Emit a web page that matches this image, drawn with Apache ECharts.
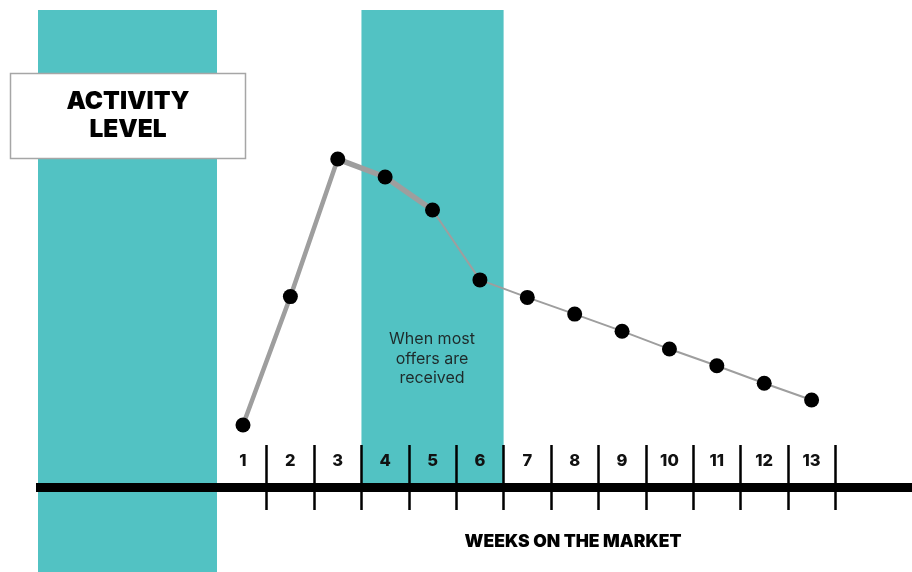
<!DOCTYPE html>
<html>
<head>
<meta charset="utf-8">
<title>Activity level by weeks on the market</title>
<script src="https://cdn.jsdelivr.net/npm/echarts@6/dist/echarts.min.js"></script>
<style>
  html, body { margin: 0; padding: 0; background: #ffffff; }
  #chart { width: 912px; height: 572px; }
</style>
</head>
<body>
<div id="chart"></div>
<script>
// Weeks on the market and the relative activity level for each week
const weeks = [1, 2, 3, 4, 5, 6, 7, 8, 9, 10, 11, 12, 13];
const activity = [15.6, 47.9, 82.5, 78.0, 69.7, 52.1, 47.7, 43.5, 39.2, 34.7, 30.5, 26.1, 21.9];
const weekLabels = ['1', '2', '3', '4', '5', '6', '7', '8', '9', '10', '11', '12', '13'];
// Weeks in which most offers come in (shaded band)
const offerWeeks = [4, 6];

const TEAL = '#52c2c3';
const LINE_GREY = '#9e9e9e';
const FONT = 'Inter, Lato, "DejaVu Sans", sans-serif';

// Week boundaries, where the divider ticks sit
const boundaries = weeks.map(w => w + 0.5);

// Line segments with their stroke widths: [first index, last index, width]
const segments = [[0, 2, 4.5], [2, 4, 5.5], [4, 12, 2]];

function segmentData(from, to) {
  return weeks.map((w, i) => (i >= from && i <= to) ? [w, activity[i]] : [w, null]);
}

const chart = echarts.init(document.getElementById('chart'), null, { renderer: 'canvas' });

const series = segments.map(([from, to, width], k) => ({
  type: 'line',
  data: segmentData(from, to),
  symbol: 'none',
  connectNulls: false,
  z: 3,
  silent: true,
  lineStyle: { color: LINE_GREY, width: width, cap: 'round', join: 'round' },
  markArea: k === 0 ? {
    silent: true,
    itemStyle: { color: TEAL, opacity: 1 },
    data: [[{ xAxis: offerWeeks[0] - 0.5, yAxis: 0 }, { xAxis: offerWeeks[1] + 0.5, yAxis: 120 }]]
  } : undefined
}));

series.push({
  type: 'scatter',
  data: weeks.map((w, i) => [w, activity[i]]),
  symbol: 'circle',
  symbolSize: 15,
  itemStyle: { color: '#000000', opacity: 1 },
  z: 6,
  silent: true
});

chart.setOption({
  animation: false,
  backgroundColor: '#ffffff',
  grid: { left: 36, right: 0, top: 10, bottom: 85, outerBoundsMode: 'none', containLabel: false },
  xAxis: [
    {
      type: 'value',
      position: 'bottom',
      min: -3.3686,
      max: 15.119,
      z: 5,
      axisLine: { show: true, lineStyle: { color: '#000000', width: 9, cap: 'butt' } },
      axisTick: { show: true, customValues: boundaries, length: 23, lineStyle: { color: '#000000', width: 2.5 } },
      axisLabel: { show: false },
      splitLine: { show: false }
    },
    {
      type: 'value',
      position: 'top',
      offset: -477,
      min: -3.3686,
      max: 15.119,
      z: 5,
      axisLine: { show: false },
      axisTick: { show: true, customValues: boundaries, length: 42, lineStyle: { color: '#000000', width: 2.5 } },
      axisLabel: {
        show: true,
        customValues: weeks,
        formatter: v => weekLabels[weeks.indexOf(Math.round(v))] || '',
        margin: 17,
        color: '#111111',
        fontFamily: FONT,
        fontWeight: 800,
        fontSize: 16.5
      },
      splitLine: { show: false }
    }
  ],
  yAxis: { type: 'value', min: 0, max: 120, show: false },
  series: series,
  graphic: [
    {
      type: 'rect',
      z: 0,
      silent: true,
      shape: { x: 38, y: 10, width: 179, height: 562 },
      style: { fill: TEAL }
    },
    {
      type: 'group',
      z: 100,
      children: [
        {
          type: 'rect',
          shape: { x: 10.5, y: 73.5, width: 235, height: 85 },
          style: { fill: '#ffffff', stroke: '#a6a6a6', lineWidth: 1.5 }
        },
        {
          type: 'text',
          style: {
            x: 128, y: 115.5,
            text: 'ACTIVITY\nLEVEL',
            fill: '#000000',
            font: '900 24.5px ' + FONT,
            lineHeight: 28,
            align: 'center',
            verticalAlign: 'middle'
          }
        }
      ]
    },
    {
      type: 'text',
      z: 50,
      style: {
        x: 432, y: 359,
        text: 'When most\noffers are\nreceived',
        fill: '#1e2b2b',
        font: '400 16px ' + FONT,
        lineHeight: 19.5,
        align: 'center',
        verticalAlign: 'middle'
      }
    },
    {
      type: 'text',
      z: 50,
      style: {
        x: 573, y: 542,
        text: 'WEEKS ON THE MARKET',
        fill: '#000000',
        font: '900 17.5px ' + FONT,
        align: 'center',
        verticalAlign: 'middle'
      }
    }
  ]
});
</script>
</body>
</html>
